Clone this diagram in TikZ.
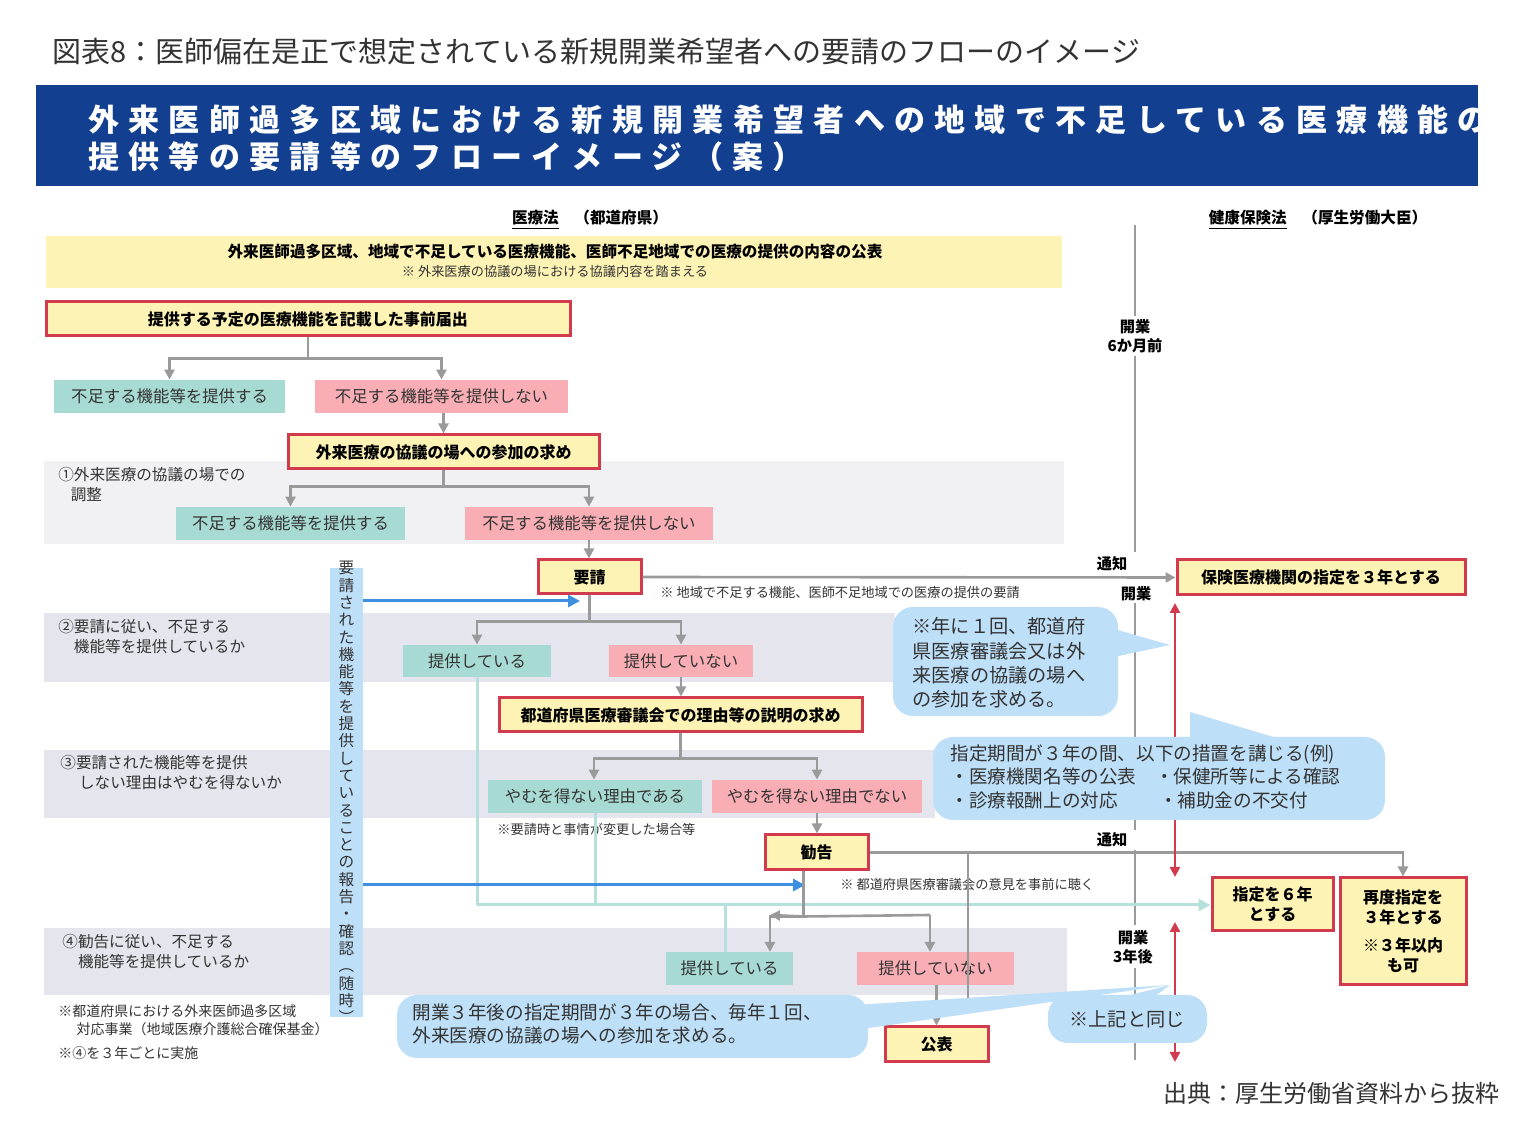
\documentclass[tikz,border=0pt]{standalone}
\usepackage{fontspec}
\setmainfont{Noto Sans CJK JP}
\newfontfamily\bannerfont{Noto Sans CJK JP}[LetterSpace=30]
\usetikzlibrary{arrows.meta}
\definecolor{redb}{HTML}{D23A4E}
\definecolor{yelf}{HTML}{FDF3B5}
\definecolor{tealf}{HTML}{A8DAD4}
\definecolor{pinkf}{HTML}{F8AEB4}
\definecolor{grayl}{HTML}{9A9A9A}
\definecolor{bandg}{HTML}{F1F1F3}
\definecolor{bandl}{HTML}{E5E5EE}
\definecolor{callf}{HTML}{BEDFF8}
\definecolor{bluea}{HTML}{3D8FE0}
\definecolor{tealline}{HTML}{B5E0DC}
\definecolor{bannerc}{HTML}{123F8F}
\definecolor{txt}{HTML}{333333}
\tikzset{
 redbox/.style={draw=redb,line width=1.5pt,fill=yelf,inner sep=0pt,font=\bfseries\fontsize{8}{10}\selectfont,text=black},
 tealbox/.style={fill=tealf,inner sep=0pt,font=\fontsize{8.2}{10}\selectfont,text=txt},
 pinkbox/.style={fill=pinkf,inner sep=0pt,font=\fontsize{8.2}{10}\selectfont,text=txt},
 ln/.style={draw=grayl,line width=1.3pt},
 arr/.style={ln,-{Triangle[length=5pt,width=5pt]}},
 tln/.style={draw=tealline,line width=1.5pt},
 barr/.style={draw=bluea,line width=1.5pt,-{Triangle[length=6pt,width=6pt]}},
 rarr/.style={draw=redb,line width=1.2pt,{Triangle[length=5pt,width=5pt]}-{Triangle[length=5pt,width=5pt]}},
 lbl/.style={inner sep=0pt,font=\fontsize{7.8}{10}\selectfont,text=txt,align=left},
 note/.style={inner sep=0pt,font=\fontsize{6.6}{8}\selectfont,text=txt},
 bl/.style={inner sep=0pt,font=\bfseries\fontsize{7.8}{10}\selectfont,text=black,align=center},
 callt/.style={inner sep=0pt,font=\fontsize{9.6}{12.2}\selectfont,text=txt,align=left},
}
\begin{document}
\begin{tikzpicture}[x=0.5pt,y=-0.5pt]
\useasboundingbox[fill=white] (0,0) rectangle (1539,1133);
% title
\node[anchor=west,inner sep=0pt,font=\fontsize{14.5}{16}\selectfont,text=txt] (title) at (52,52) {図表8：医師偏在是正で想定されている新規開業希望者への要請のフローのイメージ};
\fill[bannerc] (36,85) rectangle (1478,186);
\node[anchor=west,inner sep=0pt,align=left,text=white,font=\bannerfont\bfseries\fontsize{15.5}{18.5}\selectfont] (banner) at (88,138) {外来医師過多区域における新規開業希望者への地域で不足している医療機能の\\提供等の要請等のフローイメージ（案）};
% headers
\node[bl] (h1) at (590,220) {\underline{医療法}\quad（都道府県）};
\node[bl] (h2) at (1318,220) {\underline{健康保険法}\quad（厚生労働大臣）};
% bands
\fill[yelf] (46,236) rectangle (1062,288);
\fill[bandg] (44,461) rectangle (1064,544);
\fill[bandl] (44,613) rectangle (895,682);
\fill[bandl] (44,750) rectangle (935,818);
\fill[bandl] (44,928) rectangle (1067,995);
\node[bl] (pub) at (555,252) {外来医師過多区域、地域で不足している医療機能、医師不足地域での医療の提供の内容の公表};
\node[note] (pubn) at (555,272) {※ 外来医療の協議の場における協議内容を踏まえる};
% vertical timeline
\draw[grayl,line width=1pt] (1135,225) -- (1135,316) (1135,356) -- (1135,552) (1135,603) -- (1135,830) (1135,850) -- (1135,925) (1135,968) -- (1135,1060);
\node[bl,font=\bfseries\fontsize{7.6}{9.5}\selectfont] (k6) at (1135,336) {開業\\6か月前};
\node[bl,font=\bfseries\fontsize{7.6}{9.5}\selectfont] (k3) at (1133,947) {開業\\3年後};
\node[bl,font=\bfseries\fontsize{7.6}{9.5}\selectfont] (ts1) at (1112,564) {通知};
\node[bl,font=\bfseries\fontsize{7.6}{9.5}\selectfont] (kg) at (1136,594) {開業};
\node[bl,font=\bfseries\fontsize{7.6}{9.5}\selectfont] (ts2) at (1112,840) {通知};
% boxes
\node[redbox,minimum width=262pt,minimum height=17pt] (b1) at (308,319) {提供する予定の医療機能を記載した事前届出};
\node[tealbox,minimum width=115.5pt,minimum height=16.5pt] (t1) at (169.5,396.5) {不足する機能等を提供する};
\node[pinkbox,minimum width=126.5pt,minimum height=16.5pt] (p1) at (441.5,396.5) {不足する機能等を提供しない};
\node[redbox,minimum width=155.5pt,minimum height=17pt] (b2) at (443.5,452) {外来医療の協議の場への参加の求め};
\node[tealbox,minimum width=114.5pt,minimum height=16.5pt] (t2) at (290.5,523.5) {不足する機能等を提供する};
\node[pinkbox,minimum width=124pt,minimum height=16.5pt] (p2) at (589,523.5) {不足する機能等を提供しない};
\node[redbox,minimum width=51.5pt,minimum height=17pt] (yosei) at (589.5,577) {要請};
\node[redbox,minimum width=144pt,minimum height=17.5pt] (hoken) at (1321,577.5) {保険医療機関の指定を３年とする};
\node[tealbox,minimum width=74pt,minimum height=16pt] (t3) at (477,661) {提供している};
\node[pinkbox,minimum width=72pt,minimum height=16pt] (p3) at (681,661) {提供していない};
\node[redbox,minimum width=181.5pt,minimum height=17pt] (b3) at (680.5,715) {都道府県医療審議会での理由等の説明の求め};
\node[tealbox,minimum width=107pt,minimum height=16.5pt] (t4) at (595,796.5) {やむを得ない理由である};
\node[pinkbox,minimum width=105pt,minimum height=16.5pt] (p4) at (817,796.5) {やむを得ない理由でない};
\node[redbox,minimum width=51.5pt,minimum height=17.5pt] (kankoku) at (816.5,852.5) {勧告};
\node[tealbox,minimum width=63.5pt,minimum height=16.5pt] (t5) at (729.5,968.5) {提供している};
\node[pinkbox,minimum width=78.5pt,minimum height=16.5pt] (p5) at (935.5,968.5) {提供していない};
\node[redbox,minimum width=51.5pt,minimum height=17.5pt] (kohyo) at (936.5,1044.5) {公表};
\node[redbox,minimum width=60.5pt,minimum height=26.5pt,align=center] (six) at (1272.5,904.5) {指定を６年\\とする};
\node[redbox,minimum width=63pt,minimum height=53.5pt,align=center] (sai) at (1403,931.5) {再度指定を\\３年とする\\[4pt]※３年以内\\も可};
% labels
\node[lbl,anchor=north west] (l1) at (58,467) {①外来医療の協議の場での\\\hspace{0.8em}調整};
\node[lbl,anchor=north west] (l2) at (58,619) {②要請に従い、不足する\\\hspace{1em}機能等を提供しているか};
\node[lbl,anchor=north west] (l3) at (60,755) {③要請された機能等を提供\\\hspace{1.2em}しない理由はやむを得ないか};
\node[lbl,anchor=north west] (l4) at (62,934) {④勧告に従い、不足する\\\hspace{1em}機能等を提供しているか};
\node[note,anchor=north west,align=left,font=\fontsize{7}{9}\selectfont] (n1) at (58,1004) {※都道府県における外来医師過多区域\\\hspace{1.3em}対応事業（地域医療介護総合確保基金）};
\node[note,anchor=west,font=\fontsize{7}{9}\selectfont] (n2) at (58,1053) {※④を３年ごとに実施};
\node[note,anchor=west] (n3) at (660,592) {※ 地域で不足する機能、医師不足地域での医療の提供の要請};
\node[note,anchor=west] (n4) at (497,829) {※要請時と事情が変更した場合等};
\node[note,anchor=west] (n5) at (840,885) {※ 都道府県医療審議会の意見を事前に聴く};
% teal lines
\draw[tln] (t3.south) |- (477,905) coordinate (tc);
\draw[tln,-{Triangle[length=6pt,width=6pt]}] (tc) -- (six.west |- tc);
\draw[tln] (t4.south) -- (t4.south |- tc);
\draw[tln] (725,905) coordinate (tc2) -- (t5.north -| tc2);
% vertical blue box
\node[fill=callf,minimum width=16.5pt,minimum height=224.5pt,inner sep=0pt] (vbox) at (346.5,792.5) {};
\node[inner sep=0pt,align=center,font=\fontsize{7.8}{8.65}\selectfont,text=txt] (vtext) at (vbox) {要\\請\\さ\\れ\\た\\機\\能\\等\\を\\提\\供\\し\\て\\い\\る\\こ\\と\\の\\報\\告\\・\\確\\認\\︵\\随\\時\\︶};
\draw[barr] (vbox.east |- 0,601) -- (580,601) coordinate (ba1);
\draw[barr] (vbox.east |- 0,885) -- (805,885) coordinate (ba2);
% gray connectors
\draw[ln] (b1.south) -- ++(0,21) coordinate (j1);
\draw[arr] (j1) -| (t1.north);
\draw[arr] (j1) -| (p1.north);
\draw[arr] (p1.south -| b2.north) -- (b2.north);
\draw[ln] (b2.south) -- ++(0,16) coordinate (j2);
\draw[arr] (j2) -| (t2.north);
\draw[arr] (j2) -| (p2.north);
\draw[arr] (p2.south) -- (p2.south |- yosei.north);
\draw[arr] (yosei.east) -- (hoken.west);
\draw[ln] (yosei.south) -- ++(0,26) coordinate (j3);
\draw[arr] (j3) -| (t3.north);
\draw[arr] (j3) -| (p3.north);
\draw[arr] (p3.south) -- (p3.south |- b3.north);
\draw[ln] (b3.south) -- ++(0,25) coordinate (j4);
\draw[arr] (j4) -| ([xshift=-0.5pt]t4.north);
\draw[arr] (j4) -| (p4.north);
\draw[arr] (p4.south) -- (p4.south |- kankoku.north);
\draw[arr] (kankoku.east) -| (sai.north);
\draw[ln] (968,852) coordinate (k1) -- (968,1012) coordinate (k2);
\draw[ln] ([xshift=20pt]kankoku.south west) -- ++(0,45) coordinate (j5);
\draw[ln] (j5) -- (930,915) coordinate (j6);
\draw[arr] (j5) -| (770,952) coordinate (e1);
\draw[arr] (j6) -- (930,952) coordinate (e2);
\draw[arr] (j5) -- (770,915);
\draw[arr] (p5.south -| kohyo.north) -- (kohyo.north);
% red double arrows
\draw[rarr] (1175,603) coordinate (r1) -- (1175,877) coordinate (r2);
\draw[rarr] (1175,922) coordinate (r3) -- (1175,1062) coordinate (r4);
% callouts
\fill[callf,rounded corners=10pt] (893,607) rectangle (1118,716);
\fill[callf] (1100,625) -- (1170,645) -- (1100,660) -- cycle;
\node[callt,anchor=north west] (c1) at (912,617) {※年に１回、都道府\\県医療審議会又は外\\来医療の協議の場へ\\の参加を求める。};
\fill[callf] (1190,712) -- (1190,745) -- (1300,745) -- cycle;
\fill[callf,rounded corners=10pt] (933,737) rectangle (1385,820);
\node[callt,anchor=north west,font=\fontsize{9.3}{11.8}\selectfont] (c2) at (950,744) {指定期間が３年の間、以下の措置を講じる(例)\\・医療機関名等の公表\quad ・保健所等による確認\\・診療報酬上の対応\qquad\ ・補助金の不交付};
\fill[callf] (855,1005) -- (1170,985) -- (855,1030) -- cycle;
\fill[callf,rounded corners=10pt] (397,995) rectangle (868,1058);
\node[callt,anchor=north west,font=\fontsize{9.3}{11.8}\selectfont] (c3) at (412,1003) {開業３年後の指定期間が３年の場合、毎年１回、\\外来医療の協議の場への参加を求める。};
\fill[callf] (1110,1000) -- (1170,985) -- (1150,1000) -- cycle;
\fill[callf,rounded corners=10pt] (1048,995) rectangle (1207,1043);
\node[callt] (c4) at (1127,1019) {※上記と同じ};
% source
\node[anchor=east,inner sep=0pt,font=\fontsize{12}{14}\selectfont,text=txt] (src) at (1500,1093) {出典：厚生労働省資料から抜粋};
\end{tikzpicture}
\end{document}
